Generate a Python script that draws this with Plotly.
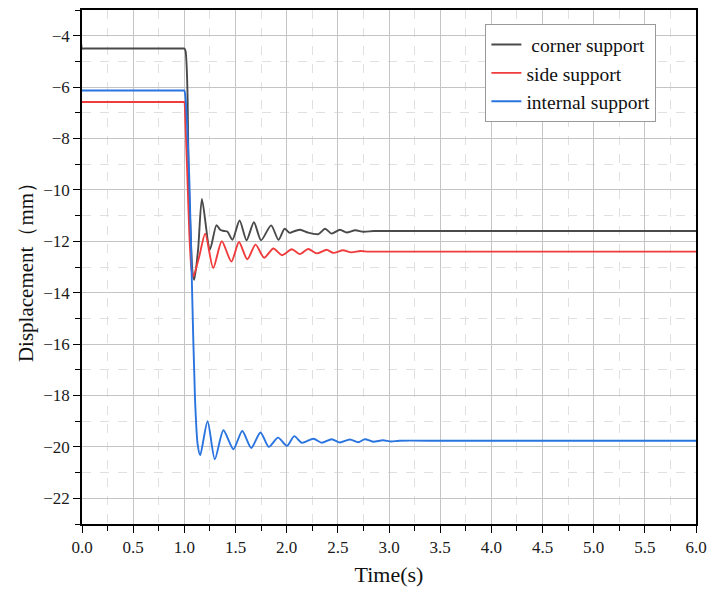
import plotly.graph_objects as go

# Displacement time histories at three support locations
corner_t = [0, 0.002, 0.02, 0.5, 0.995, 1.0, 1.012, 1.022, 1.032, 1.042, 1.06, 1.08, 1.097,
            1.135, 1.172, 1.25, 1.314, 1.35, 1.388, 1.42, 1.47, 1.54, 1.608, 1.68, 1.75,
            1.848, 1.92, 1.98, 2.03, 2.08, 2.133, 2.21, 2.31, 2.375, 2.44, 2.52, 2.586,
            2.67, 2.75, 2.85, 3.0, 4.0, 5.0, 6.0]
corner_y = [0, -4.5, -4.5, -4.5, -4.5, -4.5, -4.6, -5.13, -6.42, -9.4, -11.5, -13.2, -13.5,
            -12.3, -10.35, -12.32, -11.37, -11.55, -11.6, -11.62, -11.94, -11.19, -11.96,
            -11.26, -11.96, -11.38, -11.94, -11.51, -11.67, -11.6, -11.55, -11.66, -11.72,
            -11.51, -11.7, -11.55, -11.66, -11.57, -11.63, -11.6, -11.6, -11.6, -11.6, -11.6]

side_t = [0, 0.5, 0.995, 1.0, 1.01, 1.03, 1.05, 1.07, 1.087, 1.145, 1.204, 1.282, 1.366,
          1.46, 1.534, 1.615, 1.696, 1.78, 1.87, 1.955, 2.05, 2.13, 2.21, 2.295, 2.39,
          2.456, 2.55, 2.63, 2.72, 2.8, 3.0, 4.0, 5.0, 6.0]
side_y = [-6.58, -6.58, -6.58, -6.58, -7.3, -9.5, -11.8, -13.1, -13.38, -12.6, -11.7,
          -13.04, -12.0, -12.79, -12.03, -12.7, -12.13, -12.64, -12.28, -12.54, -12.31,
          -12.5, -12.3, -12.47, -12.33, -12.45, -12.35, -12.43, -12.38, -12.4, -12.4,
          -12.4, -12.4, -12.4]

internal_t = [0, 0.5, 0.995, 1.0, 1.01, 1.025, 1.049, 1.075, 1.104, 1.13, 1.155, 1.227,
              1.298, 1.382, 1.479, 1.566, 1.654, 1.744, 1.825, 1.916, 2.003, 2.074, 2.149,
              2.262, 2.343, 2.44, 2.52, 2.618, 2.70, 2.764, 2.845, 2.94, 3.02, 3.1, 3.5,
              4.0, 5.0, 6.0]
internal_y = [-6.13, -6.13, -6.13, -6.13, -6.35, -7.3, -9.63, -13.8, -18.1, -19.9, -20.32,
              -19.0, -20.48, -19.35, -20.09, -19.38, -20.04, -19.44, -20.0, -19.64, -19.96,
              -19.58, -19.84, -19.68, -19.84, -19.7, -19.83, -19.71, -19.82, -19.7, -19.8,
              -19.74, -19.79, -19.76, -19.76, -19.76, -19.76, -19.76]

names = ["\u00a0corner support", "side support", "internal support"]
colors = ["#4a4a4a", "#f03c3c", "#2a74e0"]

SERIF = "Liberation Serif, Times New Roman, serif"

fig = go.Figure()
for i, (t, y) in enumerate([(corner_t, corner_y), (side_t, side_y), (internal_t, internal_y)]):
    fig.add_trace(go.Scatter(
        x=t, y=y, mode="lines", name=names[i],
        line=dict(color=colors[i], width=1.9, shape="spline", smoothing=0.7),
    ))

axis_common = dict(
    showline=True, linecolor="black", linewidth=1.6, mirror=True,
    ticks="outside", ticklen=7, tickcolor="black", tickwidth=1.4,
    showgrid=True, gridcolor="#c4c4c4", gridwidth=1,
    zeroline=False,
    tickfont=dict(family=SERIF, size=17, color="#1a1a1a"),
)

fig.update_xaxes(
    range=[0, 6], dtick=0.5, tick0=0, tickformat=".1f",
    minor=dict(dtick=0.25, showgrid=True, gridcolor="#e0e0e0", griddash="dash",
               ticks="outside", ticklen=5, tickcolor="black"),
    title=dict(text="Time(s)", font=dict(family=SERIF, size=22, color="#111"), standoff=10),
    **axis_common,
)
fig.update_yaxes(
    range=[-23, -3], dtick=2, tick0=0,
    minor=dict(dtick=1, showgrid=True, gridcolor="#e0e0e0", griddash="dash",
               ticks="outside", ticklen=5, tickcolor="black"),
    title=dict(text="Displacement（mm）", font=dict(family=SERIF, size=21, color="#111"),
               standoff=4),
    **axis_common,
)

fig.update_layout(
    width=715, height=591,
    margin=dict(l=82, r=15, t=8, b=65),
    plot_bgcolor="white", paper_bgcolor="white",
    showlegend=True,
    legend=dict(
        x=0.657, y=0.972, xanchor="left", yanchor="top",
        bgcolor="white", bordercolor="#9a9a9a", borderwidth=1,
        font=dict(family=SERIF, size=19.5, color="#111"),
    ),
)

fig.write_html("out.html")
